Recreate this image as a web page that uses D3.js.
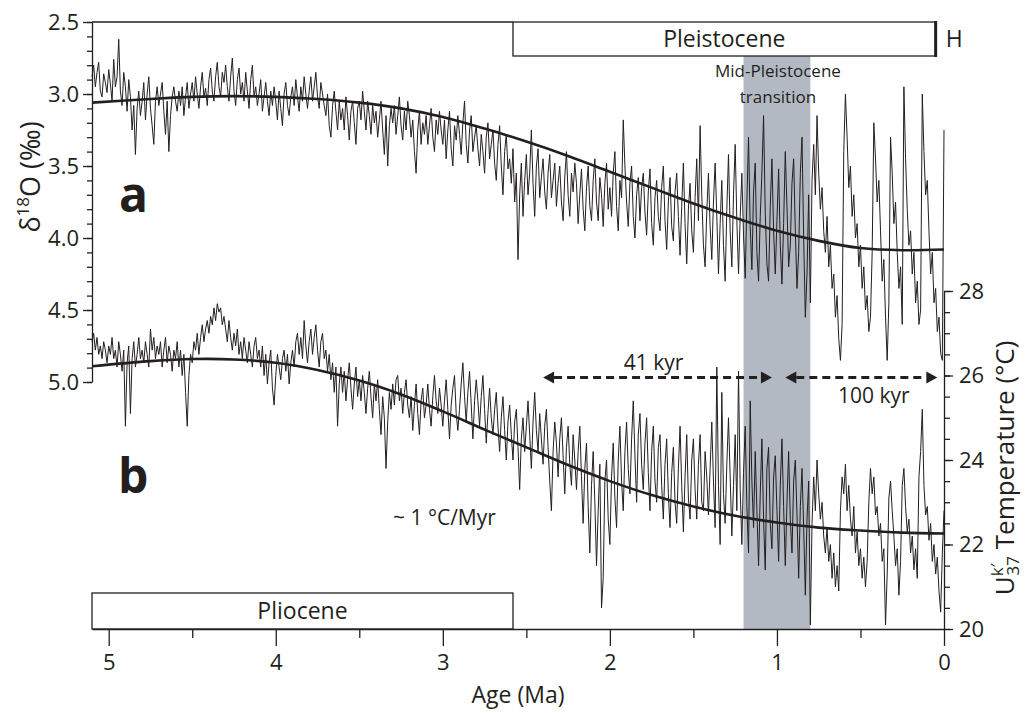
<!DOCTYPE html>
<html>
<head>
<meta charset="utf-8">
<script src="https://cdn.jsdelivr.net/npm/d3@7"></script>
<style>
  html, body { margin: 0; padding: 0; background: #fff; }
  svg { display: block; font-family: "Open Sans", "Noto Sans", sans-serif; }
</style>
</head>
<body>
<svg id="chart" width="1033" height="713"></svg>
<script>
// ---------------- DATA ----------------
// sampling grid: ages from 5.10 Ma to 0.00 Ma every 0.01 Ma
const ageStart = 5.1;
const ageStep = 0.01;

// (a) benthic δ18O (‰), one row per 0.1 Ma, oldest first
const d18O = [
  2.88, 2.80, 2.95, 2.85, 2.78, 2.98, 3.02, 2.86, 2.92, 2.99,
  2.83, 2.93, 3.05, 2.76, 2.95, 2.88, 2.62, 2.98, 3.08, 2.85,
  2.95, 3.12, 2.90, 3.02, 3.25, 3.08, 3.42, 3.10, 2.98, 3.15,
  3.05, 2.92, 3.18, 3.00, 2.88, 3.10, 3.22, 3.35, 3.05, 2.95,
  3.08, 3.00, 2.92, 3.12, 3.28, 3.05, 3.40, 3.15, 3.02, 2.95,
  3.05, 3.12, 2.98, 3.08, 2.95, 3.15, 3.02, 2.92, 3.10, 3.00,
  2.92, 3.05, 2.88, 3.00, 3.10, 2.95, 2.85, 3.02, 2.96, 3.08,
  2.90, 2.82, 2.98, 3.05, 2.88, 2.78, 2.95, 3.02, 2.85, 2.92,
  2.80, 2.95, 3.05, 2.88, 2.75, 2.98, 3.08, 2.90, 2.82, 3.00,
  2.92, 3.05, 2.85, 2.98, 3.10, 2.90, 2.80, 3.02, 2.95, 3.08,
  3.00, 2.90, 3.12, 3.02, 2.92, 3.05, 3.15, 2.98, 3.08, 2.95,
  3.05, 3.18, 2.98, 3.10, 3.22, 3.00, 2.92, 3.08, 3.15, 3.02,
  2.95, 3.08, 2.90, 3.02, 3.12, 2.95, 3.05, 2.88, 3.00, 3.10,
  2.98, 2.88, 3.05, 2.95, 2.85, 3.02, 3.10, 2.92, 3.00, 3.08,
  3.15, 3.00, 3.22, 3.30, 3.08, 2.98, 3.12, 3.25, 3.05, 3.18,
  3.10, 3.25, 3.02, 3.15, 3.32, 3.12, 3.05, 3.20, 3.35, 3.10,
  3.05, 3.18, 2.98, 3.12, 3.25, 3.05, 3.15, 3.28, 3.08, 3.20,
  3.12, 3.30, 3.18, 3.05, 3.25, 3.42, 3.15, 3.50, 3.22, 3.10,
  3.20, 3.08, 3.28, 3.15, 3.02, 3.22, 3.32, 3.12, 3.25, 3.05,
  3.15, 3.30, 3.18, 3.40, 3.55, 3.25, 3.12, 3.35, 3.20, 3.28,
  3.15, 3.35, 3.22, 3.10, 3.30, 3.40, 3.18, 3.28, 3.12, 3.25,
  3.35, 3.18, 3.45, 3.25, 3.12, 3.38, 3.50, 3.22, 3.32, 3.15,
  3.28, 3.42, 3.20, 3.05, 3.35, 3.48, 3.25, 3.15, 3.40, 3.30,
  3.22, 3.38, 3.50, 3.28, 3.40, 3.55, 3.30, 3.20, 3.45, 3.35,
  3.25, 3.48, 3.60, 3.35, 3.22, 3.50, 3.70, 3.40, 3.28, 3.52,
  3.45, 3.62, 3.38, 3.75, 3.55, 4.15, 3.70, 3.48, 3.85, 3.60,
  3.42, 3.70, 3.55, 3.25, 3.62, 3.85, 3.50, 3.38, 3.72, 3.58,
  3.45, 3.68, 3.80, 3.55, 3.42, 3.72, 3.60, 3.48, 3.78, 3.62,
  3.50, 3.75, 3.88, 3.58, 3.40, 3.70, 3.85, 3.55, 3.68, 3.48,
  3.62, 3.90, 3.70, 3.52, 3.80, 3.95, 3.65, 3.50, 3.78, 3.88,
  3.60, 3.45, 3.75, 3.88, 3.58, 3.70, 3.92, 3.62, 3.48, 3.80,
  3.65, 3.85, 3.55, 3.40, 3.78, 3.95, 3.60, 3.72, 3.18, 3.50,
  3.75, 3.92, 3.62, 3.50, 3.85, 4.00, 3.70, 3.58, 3.88, 3.65,
  3.55, 3.82, 3.98, 3.68, 3.52, 3.90, 4.05, 3.72, 3.60, 3.85,
  3.95, 3.65, 3.50, 3.88, 4.08, 3.75, 3.58, 3.92, 4.02, 3.68,
  3.55, 3.85, 4.12, 3.78, 3.48, 3.90, 4.18, 3.80, 3.62, 3.95,
  4.10, 3.72, 3.45, 3.88, 3.22, 3.70, 4.05, 4.20, 3.82, 3.55,
  3.92, 4.15, 3.75, 3.48, 3.85, 4.25, 3.90, 3.60, 4.05, 4.30,
  3.80, 3.42, 3.95, 4.20, 3.70, 3.35, 3.88, 4.25, 3.85, 3.55,
  3.98, 4.28, 3.75, 3.30, 3.92, 4.22, 3.68, 3.48, 4.10, 4.30,
  3.85, 3.55, 3.15, 3.82, 4.18, 4.30, 3.78, 3.45, 3.95, 4.25,
  3.88, 3.52, 4.05, 4.32, 3.90, 3.40, 3.78, 4.20, 4.05, 3.62,
  3.45, 3.95, 4.35, 4.10, 3.55, 3.30, 4.00, 4.55, 4.25, 3.70,
  4.45, 3.60, 3.35, 3.70, 3.15, 3.55, 3.80, 3.65, 3.95, 4.10,
  3.85, 4.20, 4.05, 4.35, 4.25, 4.55, 4.40, 4.70, 4.85, 4.60,
  3.40, 3.00, 3.30, 3.65, 3.50, 3.85, 3.70, 4.00, 3.90, 4.20,
  4.05, 4.35, 4.20, 4.50, 4.40, 4.65, 4.55, 4.10, 3.20, 3.45,
  3.75, 3.60, 3.95, 4.30, 4.15, 4.55, 4.85, 4.45, 3.30, 3.55,
  3.90, 3.75, 4.10, 4.35, 4.20, 4.60, 2.95, 3.45, 3.80, 4.05,
  3.95, 4.25, 4.10, 4.45, 4.30, 4.60, 4.50, 3.00, 3.40, 3.70,
  3.60, 3.95, 4.25, 4.10, 4.45, 4.35, 4.65, 4.55, 4.80, 4.85,
  3.25
];

// (b) alkenone U^k'37 SST (°C), one row per 0.1 Ma, oldest first
const sst = [
  26.8, 27.0, 26.6, 26.9, 26.5, 26.7, 26.4, 26.8, 26.6, 26.3,
  26.7, 26.5, 26.9, 26.4, 26.6, 26.2, 26.8, 26.5, 26.1, 26.6,
  24.8, 26.3, 26.7, 25.1, 26.4, 26.8, 26.2, 26.5, 26.9, 26.4,
  26.6, 26.3, 26.8, 26.5, 26.2, 27.1, 26.6, 26.9, 26.4, 26.7,
  26.5, 26.8, 26.2, 26.6, 26.9, 26.3, 26.7, 26.5, 26.1, 26.6,
  26.4, 26.8, 26.2, 26.6, 26.0, 26.5, 25.6, 24.8, 26.0, 26.5,
  26.3, 26.8, 26.6, 27.0, 26.5, 26.9, 27.2, 26.8, 27.1, 27.3,
  27.0, 27.4, 27.2, 27.6, 27.3, 27.7, 27.5, 27.6, 27.2, 27.4,
  27.1, 26.8, 27.3, 26.9, 26.6, 27.0, 26.7, 27.1, 26.5, 26.8,
  26.4, 26.9, 26.6, 26.3, 26.8, 26.5, 26.2, 26.7, 26.9, 26.4,
  26.6, 26.2, 26.7, 26.0, 26.5, 25.8, 26.3, 26.6, 25.7, 25.3,
  26.0, 26.5, 26.2, 25.9, 26.4, 26.6, 26.1, 26.5, 25.8, 26.3,
  26.6, 26.2, 26.8, 27.0, 26.5, 26.9, 26.4, 27.3, 26.7, 26.3,
  26.8, 27.1, 26.5, 26.9, 27.2, 26.6, 26.2, 26.8, 27.0, 26.4,
  26.6, 26.1, 26.5, 25.9, 26.3, 25.6, 26.2, 24.8, 25.8, 26.2,
  25.6, 26.1, 25.4, 25.9, 26.3, 25.7, 25.2, 25.8, 26.2, 25.5,
  25.9, 25.4, 26.0, 25.6, 25.1, 25.7, 26.1, 25.5, 25.0, 25.8,
  25.4, 25.9, 25.2, 24.6, 25.5, 25.0, 23.8, 24.9, 25.6, 25.2,
  25.8, 25.3, 25.9, 26.0, 25.4, 25.7, 25.1, 25.6, 25.9, 25.3,
  25.0, 25.5, 24.7, 25.3, 25.8, 25.1, 24.6, 25.4, 25.7, 25.0,
  25.3, 25.8, 25.2, 24.8, 25.5, 26.0, 25.4, 25.1, 25.7, 25.3,
  24.8, 25.4, 25.9, 25.2, 24.5, 25.3, 25.7, 26.0, 25.1, 24.7,
  25.2, 25.8, 26.3, 25.5, 24.9, 25.6, 26.1, 25.3, 24.5, 25.4,
  25.9, 25.4, 24.8, 25.5, 26.0, 25.2, 24.4, 25.1, 25.7, 25.0,
  24.6, 25.2, 25.6, 24.8, 24.2, 25.0, 25.5, 24.7, 24.0, 24.9,
  25.3, 24.6, 24.0, 24.9, 25.2, 24.3, 23.3, 24.5, 25.0, 24.2,
  24.8, 25.4, 24.6, 23.8, 24.9, 25.6, 24.7, 24.2, 25.1, 24.5,
  23.9, 24.8, 25.2, 24.3, 23.5, 22.8, 24.2, 24.9, 24.4, 23.6,
  24.5, 25.0, 24.1, 23.2, 24.3, 24.8, 23.9, 23.4, 24.6, 24.0,
  23.3, 24.2, 24.8, 23.6, 22.5, 23.8, 24.4, 22.9, 21.8, 23.4,
  24.2, 23.0, 21.5, 22.8, 23.9, 20.5, 21.2, 23.5, 24.0, 22.6,
  22.0, 23.6, 24.4, 23.1, 22.4, 24.0, 24.8, 23.5, 22.8, 24.2,
  24.9, 23.8, 23.2, 24.5, 25.4, 24.1, 23.0, 24.6, 25.1, 23.9,
  23.3, 24.4, 25.0, 23.7, 22.8, 24.2, 24.8, 23.5, 23.0, 24.3,
  24.6, 23.4, 22.6, 23.9, 24.5, 23.2, 22.4, 23.7, 24.3, 23.0,
  22.5, 23.8, 24.8, 23.4, 22.3, 23.6, 24.6, 23.1, 22.6, 24.0,
  24.5, 23.3, 22.6, 23.9, 24.6, 23.0, 22.8, 24.2, 23.6, 22.7,
  23.8, 24.9, 23.5, 22.4, 26.2, 23.4, 22.0, 25.6, 23.2, 22.5,
  23.9, 25.0, 23.6, 22.2, 23.4, 24.6, 22.8, 26.1, 23.3, 22.0,
  23.7, 24.8, 22.9, 21.8, 25.4, 23.5, 22.4, 24.2, 22.8, 21.5,
  23.2, 24.5, 22.6, 21.4, 23.8, 24.3, 22.5, 21.9, 23.6, 24.1,
  22.8, 21.6, 23.4, 24.5, 22.9, 21.5, 23.0, 24.2, 22.6, 21.8,
  23.5, 24.0, 22.7, 21.2, 22.9, 23.8, 22.4, 20.8, 22.6, 23.5,
  20.1, 22.5, 23.6, 22.8, 24.0, 23.2, 22.6, 23.0, 22.2, 21.8,
  22.4, 21.6, 22.0, 21.2, 21.8, 21.0, 21.5, 20.9, 22.8, 23.6,
  23.2, 23.9, 22.8, 23.4, 22.6, 22.2, 22.9, 21.8, 22.3, 21.5,
  21.9, 21.2, 21.7, 21.0, 21.6, 23.0, 23.8, 23.2, 23.6, 22.7,
  22.9, 22.2, 22.5, 21.6, 21.9, 20.1, 21.3, 23.1, 23.5, 22.8,
  22.2, 21.5, 21.9, 20.8, 21.6, 23.4, 23.8, 22.9, 22.3, 22.6,
  21.8, 22.2, 21.4, 21.9, 21.2, 23.6, 24.2, 25.2, 23.4, 22.7,
  22.9, 22.1, 22.5, 21.6, 22.0, 21.3, 21.7, 20.9, 20.4, 21.8,
  22.8
];

// smooth long-term trends
const trendAges = [5.1, 4.75, 4.5, 4.25, 4.0, 3.75, 3.5, 3.25, 3.0, 2.75, 2.5, 2.25, 2.0, 1.75, 1.5, 1.25, 1.0, 0.75, 0.5, 0.25, 0.0];
const trendD18O = [3.06, 3.035, 3.02, 3.015, 3.02, 3.035, 3.06, 3.10, 3.16, 3.24, 3.33, 3.43, 3.54, 3.65, 3.76, 3.86, 3.95, 4.02, 4.07, 4.085, 4.08];
const trendSST  = [26.22, 26.34, 26.39, 26.38, 26.30, 26.13, 25.88, 25.55, 25.15, 24.72, 24.30, 23.88, 23.50, 23.17, 22.90, 22.68, 22.52, 22.40, 22.33, 22.28, 22.26];

// ticks
const xTicks = [5, 4, 3, 2, 1, 0];
const xMinorTicks = [4.5, 3.5, 2.5, 1.5, 0.5];
const leftTicks = [2.5, 3.0, 3.5, 4.0, 4.5, 5.0];
const rightTicks = [20, 22, 24, 26, 28];

// epochs & intervals (Ma)
const plioceneStart = 5.1, pleistoceneStart = 2.58, holoceneStart = 0.05;
const mptInterval = [1.2, 0.8];
const arrow41 = [2.4, 1.03];
const arrow100 = [0.95, 0.04];

// ---------------- CHART ----------------
const svg = d3.select("#chart");
const x = d3.scaleLinear().domain([5.1, 0]).range([92, 944]);
const yA = d3.scaleLinear().domain([2.5, 5.0]).range([22, 382]);
const yB = d3.scaleLinear().domain([20, 28]).range([629, 291]);

const ages = d18O.map((_, i) => +(ageStart - i * ageStep).toFixed(2));
const seriesA = ages.map((a, i) => ({ age: a, v: d18O[i] }));
const seriesB = ages.map((a, i) => ({ age: a, v: sst[i] }));

const baseY = yB(20);
const ink = "#231f20";

// Mid-Pleistocene transition band
svg.append("rect")
  .attr("x", x(mptInterval[0]))
  .attr("width", x(mptInterval[1]) - x(mptInterval[0]))
  .attr("y", 56)
  .attr("height", baseY - 56)
  .attr("fill", "#b3b9c2");

// noisy records
const lineA = d3.line().x(d => x(d.age)).y(d => yA(d.v));
const lineB = d3.line().x(d => x(d.age)).y(d => yB(d.v));
svg.append("path").datum(seriesA).attr("d", lineA)
  .attr("fill", "none").attr("stroke", ink).attr("stroke-width", 1).attr("stroke-linejoin", "round");
svg.append("path").datum(seriesB).attr("d", lineB)
  .attr("fill", "none").attr("stroke", ink).attr("stroke-width", 1).attr("stroke-linejoin", "round");

// trends
const tA = trendAges.map((a, i) => ({ age: a, v: trendD18O[i] }));
const tB = trendAges.map((a, i) => ({ age: a, v: trendSST[i] }));
svg.append("path").datum(tA).attr("d", lineA.curve(d3.curveCatmullRom))
  .attr("fill", "none").attr("stroke", ink).attr("stroke-width", 2.6);
svg.append("path").datum(tB).attr("d", lineB.curve(d3.curveCatmullRom))
  .attr("fill", "none").attr("stroke", ink).attr("stroke-width", 2.6);

// top frame line over Pliocene part
svg.append("line")
  .attr("x1", x(5.1)).attr("x2", x(pleistoceneStart))
  .attr("y1", yA(2.5)).attr("y2", yA(2.5))
  .attr("stroke", ink).attr("stroke-width", 1.3);

// Pleistocene box
svg.append("rect")
  .attr("x", x(pleistoceneStart)).attr("y", yA(2.5))
  .attr("width", x(holoceneStart) - x(pleistoceneStart)).attr("height", 34)
  .attr("fill", "#fff").attr("stroke", ink).attr("stroke-width", 1.3);
svg.append("line")
  .attr("x1", x(holoceneStart)).attr("x2", x(holoceneStart))
  .attr("y1", yA(2.5) - 1).attr("y2", yA(2.5) + 35)
  .attr("stroke", ink).attr("stroke-width", 3);
svg.append("text")
  .attr("x", (x(pleistoceneStart) + x(holoceneStart)) / 2).attr("y", 47)
  .attr("text-anchor", "middle").attr("font-size", 23).attr("fill", ink)
  .text("Pleistocene");
svg.append("text")
  .attr("x", x(holoceneStart) + 10).attr("y", 47)
  .attr("font-size", 23).attr("fill", ink).text("H");

// Pliocene box
svg.append("rect")
  .attr("x", x(plioceneStart)).attr("y", 593)
  .attr("width", x(pleistoceneStart) - x(plioceneStart)).attr("height", baseY - 593)
  .attr("fill", "none").attr("stroke", ink).attr("stroke-width", 1.3);
svg.append("text")
  .attr("x", (x(plioceneStart) + x(pleistoceneStart)) / 2).attr("y", 619)
  .attr("text-anchor", "middle").attr("font-size", 23).attr("fill", ink)
  .text("Pliocene");

// MPT label
const mptX = x((mptInterval[0] + mptInterval[1]) / 2) + 1;
svg.append("text").attr("x", mptX).attr("y", 77)
  .attr("text-anchor", "middle").attr("font-size", 17).attr("fill", ink).text("Mid-Pleistocene");
svg.append("text").attr("x", mptX).attr("y", 103)
  .attr("text-anchor", "middle").attr("font-size", 17).attr("fill", ink).text("transition");

// axes
function styleAxis(g) {
  g.selectAll("path, line").attr("stroke", ink).attr("stroke-width", 1.3);
  g.selectAll("text").attr("fill", ink).attr("font-size", 22)
    .attr("font-family", "'Open Sans', 'Noto Sans', sans-serif");
}
// bottom
svg.append("g").attr("transform", `translate(0,${baseY})`)
  .call(d3.axisBottom(x).tickValues(xTicks).tickSize(17).tickSizeOuter(0).tickPadding(8).tickFormat(d3.format("d")))
  .call(styleAxis);
svg.append("g").attr("transform", `translate(0,${baseY})`)
  .call(d3.axisBottom(x).tickValues(xMinorTicks).tickSize(9).tickFormat(""))
  .call(g => g.select(".domain").remove())
  .call(styleAxis);
svg.append("text").attr("x", x(2.55)).attr("y", 703)
  .attr("text-anchor", "middle").attr("font-size", 23).attr("fill", ink).text("Age (Ma)");

// left
svg.append("g").attr("transform", `translate(${x(5.1)},0)`)
  .call(d3.axisLeft(yA).tickValues(leftTicks).tickSize(9).tickSizeOuter(0).tickPadding(4).tickFormat(d3.format(".1f")))
  .call(styleAxis);
svg.append("g").attr("transform", `translate(${x(5.1)},0)`)
  .call(d3.axisLeft(yA).tickValues(d3.range(25, 51).map(d => d / 10)).tickSize(5).tickFormat(""))
  .call(g => g.select(".domain").remove())
  .call(styleAxis);

// right
svg.append("g").attr("transform", `translate(${x(0)},0)`)
  .call(d3.axisRight(yB).tickValues(rightTicks).tickSize(9).tickSizeOuter(0).tickPadding(6).tickFormat(d3.format("d")))
  .call(styleAxis);
svg.append("g").attr("transform", `translate(${x(0)},0)`)
  .call(d3.axisRight(yB).tickValues(d3.range(40, 57).map(d => d / 2)).tickSize(6).tickFormat(""))
  .call(g => g.select(".domain").remove())
  .call(styleAxis);

// axis titles
const lt = svg.append("text").attr("transform", "translate(40,177) rotate(-90)")
  .attr("text-anchor", "middle").attr("font-size", 27).attr("fill", ink);
lt.append("tspan").text("δ");
lt.append("tspan").attr("font-size", 17).attr("dy", -11).text("18");
lt.append("tspan").attr("dy", 11).text("O (‰)");

const rt = svg.append("text").attr("transform", "translate(1014,468) rotate(-90)")
  .attr("text-anchor", "middle").attr("font-size", 26).attr("fill", ink);
rt.append("tspan").text("U");
rt.append("tspan").attr("font-size", 17).attr("dy", -11).text("k′");
rt.append("tspan").attr("font-size", 17).attr("dx", -12).attr("dy", 16).text("37");
rt.append("tspan").attr("dy", -5).text(" Temperature (°C)");

// panel letters
svg.append("text").attr("x", 119).attr("y", 212).attr("font-size", 48).attr("font-weight", 700).attr("fill", ink).text("a");
svg.append("text").attr("x", 118).attr("y", 493).attr("font-size", 48).attr("font-weight", 700).attr("fill", ink).text("b");

// slope annotation
svg.append("text").attr("x", 393).attr("y", 525).attr("font-size", 21).attr("fill", ink).text("~ 1 °C/Myr");

// dashed double arrows
const arrowY = yB(26) + 2;
function dashedArrow(a0, a1) {
  const x0 = x(a0), x1 = x(a1), head = 11, hw = 6;
  svg.append("line").attr("x1", x0 + head).attr("x2", x1 - head)
    .attr("y1", arrowY).attr("y2", arrowY)
    .attr("stroke", ink).attr("stroke-width", 3).attr("stroke-dasharray", "8,5");
  svg.append("path").attr("d", `M${x0},${arrowY}L${x0 + head},${arrowY - hw}L${x0 + head},${arrowY + hw}Z`).attr("fill", ink);
  svg.append("path").attr("d", `M${x1},${arrowY}L${x1 - head},${arrowY - hw}L${x1 - head},${arrowY + hw}Z`).attr("fill", ink);
}
dashedArrow(arrow41[0], arrow41[1]);
dashedArrow(arrow100[0], arrow100[1]);
svg.append("text").attr("x", (x(arrow41[0]) + x(arrow41[1])) / 2 - 4).attr("y", 370)
  .attr("text-anchor", "middle").attr("font-size", 21).attr("fill", ink).text("41 kyr");
svg.append("text").attr("x", x(0.42)).attr("y", 403)
  .attr("text-anchor", "middle").attr("font-size", 21).attr("fill", ink).text("100 kyr");
</script>
</body>
</html>
